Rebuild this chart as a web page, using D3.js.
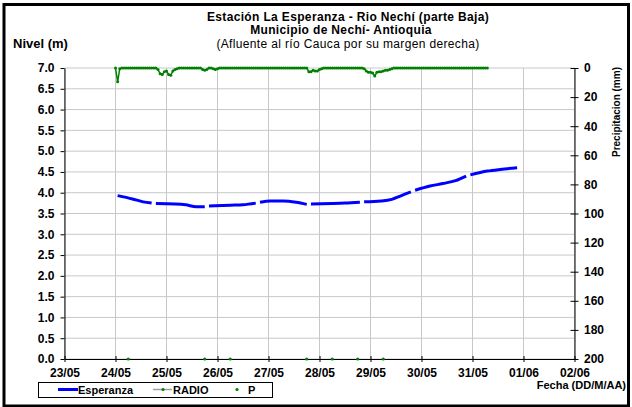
<!DOCTYPE html>
<html>
<head>
<meta charset="utf-8">
<script src="https://cdn.jsdelivr.net/npm/d3@7"></script>
<style>
body { margin: 0; background: #fff; }
svg text { font-family: "Liberation Sans", Arial, sans-serif; }
</style>
</head>
<body>
<div id="chart"></div>
<script>
// ---- datos ----
var fechaTicks = ["23/05","24/05","25/05","26/05","27/05","28/05","29/05","30/05","31/05","01/06","02/06"];
var nivelTicks = [0,0.5,1,1.5,2,2.5,3,3.5,4,4.5,5,5.5,6,6.5,7];
var precipTicks = [0,20,40,60,80,100,120,140,160,180,200];

// Esperanza: nivel (m), null = dato faltante
var esperanzaFechas = [
  "24/05 01:00","24/05 08:00","24/05 13:00","24/05 17:00","24/05 18:00","24/05 19:00",
  "25/05 04:00","25/05 09:00","25/05 14:00","25/05 18:00","25/05 19:00","25/05 20:00",
  "26/05 06:00","26/05 12:00","26/05 18:00","26/05 19:00","26/05 20:00",
  "27/05 01:00","27/05 07:00","27/05 13:00","27/05 18:00","27/05 19:00","27/05 20:00",
  "28/05 06:00","28/05 12:00","28/05 19:00","28/05 20:00","28/05 21:00",
  "29/05 05:00","29/05 10:00","29/05 14:00","29/05 19:00","29/05 20:00","29/05 21:00",
  "30/05 04:00","30/05 10:00","30/05 16:00","30/05 21:00","30/05 22:00","30/05 23:00",
  "31/05 07:00","31/05 13:00","31/05 21:00"
];
var esperanzaNivel = [
  3.93,3.85,3.78,3.75,null,3.74,
  3.73,3.71,3.66,3.66,null,3.68,
  3.70,3.71,3.75,null,3.77,
  3.80,3.80,3.77,3.72,null,3.73,
  3.74,3.75,3.77,null,3.78,
  3.80,3.84,3.92,4.02,null,4.06,
  4.16,4.22,4.29,4.40,null,4.43,
  4.52,4.56,4.60
];

// RADIO: precipitacion horaria (mm) desde 24/05 00:00
var radioInicio = "24/05 00:00";
var radioMm = [
  0,9.5,0.5,0,0,0,0,0,0,0,0,0,0,0,0,0,0,0,0,0,1,4,4.5,2.5,        // 24/05
  2,4.5,5,2,1,0.5,0,0,0,0,0,0,0,0,0,0,0,1,1.5,1,0,0,0.5,1,        // 25/05
  0.5,0,0,0,0,0,0,0,0,0,0,0,0,0,0,0,0,0,0,0,0,0,0,0,              // 26/05
  0,0,0,0,0,0,0,0,0,0,0,0,0,0,0,0,0,0,0,2.5,2.5,1.5,2,2,          // 27/05
  1,0.5,0,0,0,0,0,0,0,0,0,0,0,0,0,0,0,0,0,0,0,0.5,2,3,            // 28/05
  3,3.5,5.5,3,2.5,2.5,2,1.5,1.5,1,0.5,0,0,0,0,0,0,0,0,0,0,0,0,0,  // 29/05
  0,0,0,0,0,0,0,0,0,0,0,0,0,0,0,0,0,0,0,0,0,0,0,0,                // 30/05
  0,0,0,0,0,0,0,0                                                 // 31/05
];

// P: lecturas pluviometro
var pFechas = ["24/05 06:00","25/05 18:00","26/05 06:00","27/05 18:00","28/05 06:00","28/05 18:00","29/05 06:00"];
var pValor = [0,0,0,0,0,0,0];

// ---- dimensiones ----
var width = 632, height = 407;
var margin = {top: 68, right: 57.5, bottom: 48, left: 64.5};
var w = width - margin.left - margin.right,
    h = height - margin.top - margin.bottom;

var parseHora = d3.utcParse("%d/%m %H:%M");
var parseDia = d3.utcParse("%d/%m");

var svg = d3.select("#chart")
  .append("svg")
    .attr("width", width)
    .attr("height", height);

// marco exterior
svg.append("rect")
  .attr("x", 4).attr("y", 4.5)
  .attr("width", 624.5).attr("height", 401.5)
  .attr("fill", "none")
  .attr("stroke", "#000")
  .attr("stroke-width", 3);

var g = svg.append("g")
  .attr("transform", "translate(" + margin.left + "," + margin.top + ")");

var diasTick = fechaTicks.map(function(d) { return parseDia(d); });

var x = d3.scaleUtc()
  .domain([diasTick[0], diasTick[diasTick.length - 1]])
  .range([0, w]);

var y = d3.scaleLinear()
  .domain([0, 7])
  .range([h, 0]);

var yP = d3.scaleLinear()
  .domain([0, 200])
  .range([0, h]);

// grilla
g.append("g").selectAll("line")
  .data(nivelTicks)
  .enter().append("line")
    .attr("x1", 0).attr("x2", w)
    .attr("y1", function(d) { return y(d); })
    .attr("y2", function(d) { return y(d); })
    .attr("stroke", "#c8c8c8");
g.append("g").selectAll("line")
  .data(diasTick)
  .enter().append("line")
    .attr("x1", function(d) { return x(d); })
    .attr("x2", function(d) { return x(d); })
    .attr("y1", 0).attr("y2", h)
    .attr("stroke", "#c8c8c8");

// ejes
var ejeY = g.append("g")
  .call(d3.axisLeft(y).tickValues(nivelTicks).tickFormat(d3.format(".1f")).tickSize(4).tickSizeOuter(0));
ejeY.selectAll("text").attr("x", -10);

var ejeX = g.append("g")
  .attr("transform", "translate(0," + h + ")")
  .call(d3.axisBottom(x).tickValues(diasTick).tickFormat(d3.utcFormat("%d/%m")).tickSizeOuter(0));
ejeX.selectAll(".tick line").attr("y1", -3).attr("y2", 3);
ejeX.selectAll("text").attr("y", 9);

var ejeP = g.append("g")
  .attr("transform", "translate(" + w + ",0)")
  .call(d3.axisRight(yP).tickValues(precipTicks).tickSizeOuter(0));
ejeP.selectAll(".tick line").attr("x1", -4).attr("x2", 4);
ejeP.selectAll("text").attr("x", 9.5);

[ejeY, ejeX, ejeP].forEach(function(e) {
  e.attr("font-family", null).attr("font-size", "12px").attr("font-weight", "bold");
  e.selectAll("text").style("font-size", "12px").style("font-weight", "bold").attr("fill", "#000");
  e.selectAll("line").attr("stroke", "#000");
  e.select(".domain").attr("stroke", "#000");
});

// serie RADIO
var radioT0 = parseHora(radioInicio);
var radio = radioMm.map(function(v, i) { return {t: d3.utcHour.offset(radioT0, i), v: v}; });

g.append("path")
  .datum(radio)
  .attr("fill", "none")
  .attr("stroke", "#008000")
  .attr("stroke-width", 1.5)
  .attr("d", d3.line()
    .x(function(d) { return x(d.t); })
    .y(function(d) { return yP(d.v); }));

g.append("g").selectAll("circle")
  .data(radio)
  .enter().append("circle")
    .attr("cx", function(d) { return x(d.t); })
    .attr("cy", function(d) { return yP(d.v); })
    .attr("r", 1.5)
    .attr("fill", "#008000");

// serie Esperanza
var esperanza = esperanzaFechas.map(function(d, i) { return {t: parseHora(d), v: esperanzaNivel[i]}; });

g.append("path")
  .datum(esperanza)
  .attr("fill", "none")
  .attr("stroke", "#0000ff")
  .attr("stroke-width", 3)
  .attr("d", d3.line()
    .defined(function(d) { return d.v !== null; })
    .curve(d3.curveMonotoneX)
    .x(function(d) { return x(d.t); })
    .y(function(d) { return y(d.v); }));

// serie P
g.append("g").selectAll("circle")
  .data(pFechas)
  .enter().append("circle")
    .attr("cx", function(d) { return x(parseHora(d)); })
    .attr("cy", function(d, i) { return y(pValor[i]); })
    .attr("r", 1.6)
    .attr("fill", "#008000");

// titulos
var titulo = svg.append("g").attr("text-anchor", "middle").style("font-size", "12px").style("letter-spacing", "0.35px");
titulo.append("text").attr("x", 348).attr("y", 20.5).style("font-weight", "bold")
  .text("Estación La Esperanza - Rio Nechí  (parte Baja)");
titulo.append("text").attr("x", 341).attr("y", 34).style("font-weight", "bold")
  .text("Municipio de Nechí- Antioquia");
titulo.append("text").attr("x", 348).attr("y", 47.5)
  .text("(Afluente al río Cauca por su margen derecha)");

svg.append("text")
  .attr("x", 13).attr("y", 47.5)
  .style("font-size", "13px").style("font-weight", "bold")
  .text("Nivel (m)");

svg.append("text")
  .attr("transform", "translate(619.5,67) rotate(-90)")
  .attr("text-anchor", "end")
  .style("font-size", "10px").style("font-weight", "bold")
  .text("Precipitacion (mm)");

svg.append("text")
  .attr("x", 626).attr("y", 389)
  .attr("text-anchor", "end")
  .style("font-size", "11px").style("font-weight", "bold")
  .text("Fecha (DD/M/AA)");

// leyenda
var ley = svg.append("g");
ley.append("rect")
  .attr("x", 38.5).attr("y", 382.5)
  .attr("width", 234).attr("height", 15)
  .attr("fill", "#fff").attr("stroke", "#000");
ley.append("line").attr("x1", 58).attr("x2", 78).attr("y1", 389.5).attr("y2", 389.5)
  .attr("stroke", "#0000ff").attr("stroke-width", 3);
ley.append("line").attr("x1", 153).attr("x2", 172).attr("y1", 389.5).attr("y2", 389.5)
  .attr("stroke", "#a0a0a0").attr("stroke-width", 1.5);
ley.append("circle").attr("cx", 163).attr("cy", 389.5).attr("r", 1.6).attr("fill", "#008000");
ley.append("circle").attr("cx", 237).attr("cy", 389.5).attr("r", 1.6).attr("fill", "#008000");
var leyTxt = ley.append("g").style("font-size", "11px").style("font-weight", "bold");
leyTxt.append("text").attr("x", 78).attr("y", 393.5).text("Esperanza");
leyTxt.append("text").attr("x", 173).attr("y", 393.5).text("RADIO");
leyTxt.append("text").attr("x", 248).attr("y", 393.5).text("P");
</script>
</body>
</html>
